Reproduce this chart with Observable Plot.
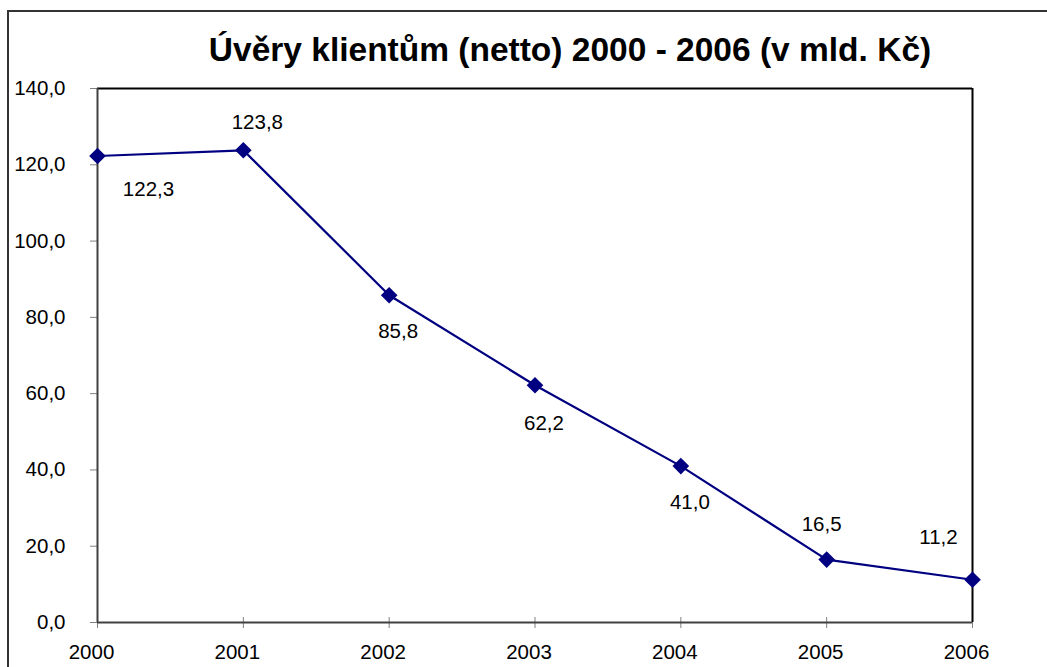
<!DOCTYPE html>
<html><head><meta charset="utf-8">
<script src="https://cdn.jsdelivr.net/npm/d3@7"></script>
<script src="https://cdn.jsdelivr.net/npm/@observablehq/plot@0.6"></script>
<style>
body{margin:0;background:#fff;overflow:hidden;font-family:"Liberation Sans",Arial,sans-serif}
#wrap{position:relative;width:1047px;height:667px;overflow:hidden;background:#fff}
#border{position:absolute;left:7px;top:10px;width:1200px;height:800px;border:2px solid #333;box-sizing:border-box}
#title{position:absolute;left:0;width:1140px;top:33px;line-height:34px;text-align:center;font-weight:bold;font-size:33.5px;color:#000;white-space:nowrap}
#chart{position:absolute;left:0;top:0}
</style></head>
<body>
<div id="wrap">
  <div id="border"></div>
  <div id="title">Úvěry klientům (netto) 2000 - 2006 (v mld. Kč)</div>
  <div id="chart"></div>
</div>
<script>
const years = [2000, 2001, 2002, 2003, 2004, 2005, 2006];
const values = [122.3, 123.8, 85.8, 62.2, 41.0, 16.5, 11.2];
const yTicks = [0, 20, 40, 60, 80, 100, 120, 140];
const xTicks = [2000, 2001, 2002, 2003, 2004, 2005, 2006];

// label offsets in pixels (styling only)
const labelDx = [51, 14, 9, 9, 9, -5, -34];
const labelDy = [33, -28, 36, 38, 36, -35, -42];

const data = years.map((year, i) => ({year, value: values[i]}));
const fmt = v => d3.format(".1f")(v).replace(".", ",");

const tickSymbol = {draw(context) { context.moveTo(0, -5.5); context.lineTo(0, 5.5); }};
const FONT = 20.5;

const labelMarks = data.map((d, i) => Plot.text([d], {
  x: "year", y: "value", text: d => fmt(d.value),
  dx: labelDx[i], dy: labelDy[i], fontSize: FONT, fill: "black"
}));

const chart = Plot.plot({
  width: 1047,
  height: 667,
  marginLeft: 97,
  marginRight: 75,
  marginTop: 88,
  marginBottom: 45,
  style: {fontFamily: '"Liberation Sans", Arial, sans-serif', background: "transparent", overflow: "visible"},
  x: {domain: [2000, 2006], type: "linear", label: null},
  y: {domain: [0, 140], label: null},
  marks: [
    Plot.axisY({ticks: yTicks, tickFormat: fmt, tickSize: 7, tickPadding: 25, fontSize: FONT, stroke: "#808080", fill: "black", label: null}),
    Plot.axisX({ticks: xTicks, tickFormat: d => String(d), tickSize: 0, tickPadding: 22, dx: -6, fontSize: FONT, fill: "black", label: null}),
    Plot.dot(xTicks, {x: d => d, y: 0, symbol: tickSymbol, r: 1, stroke: "#808080", strokeWidth: 1, fill: "none"}),
    Plot.ruleY([140], {stroke: "black", strokeWidth: 2}),
    Plot.ruleX([2006], {stroke: "black", strokeWidth: 2}),
    Plot.ruleX([2000], {stroke: "#404040", strokeWidth: 2}),
    Plot.ruleY([0], {stroke: "#404040", strokeWidth: 2}),
    Plot.line(data, {x: "year", y: "value", stroke: "#000080", strokeWidth: 2.2}),
    Plot.dot(data, {x: "year", y: "value", symbol: "diamond2", r: 7.5, fill: "#000080", stroke: "none"}),
    ...labelMarks
  ]
});
document.getElementById("chart").appendChild(chart);
</script>
</body></html>
